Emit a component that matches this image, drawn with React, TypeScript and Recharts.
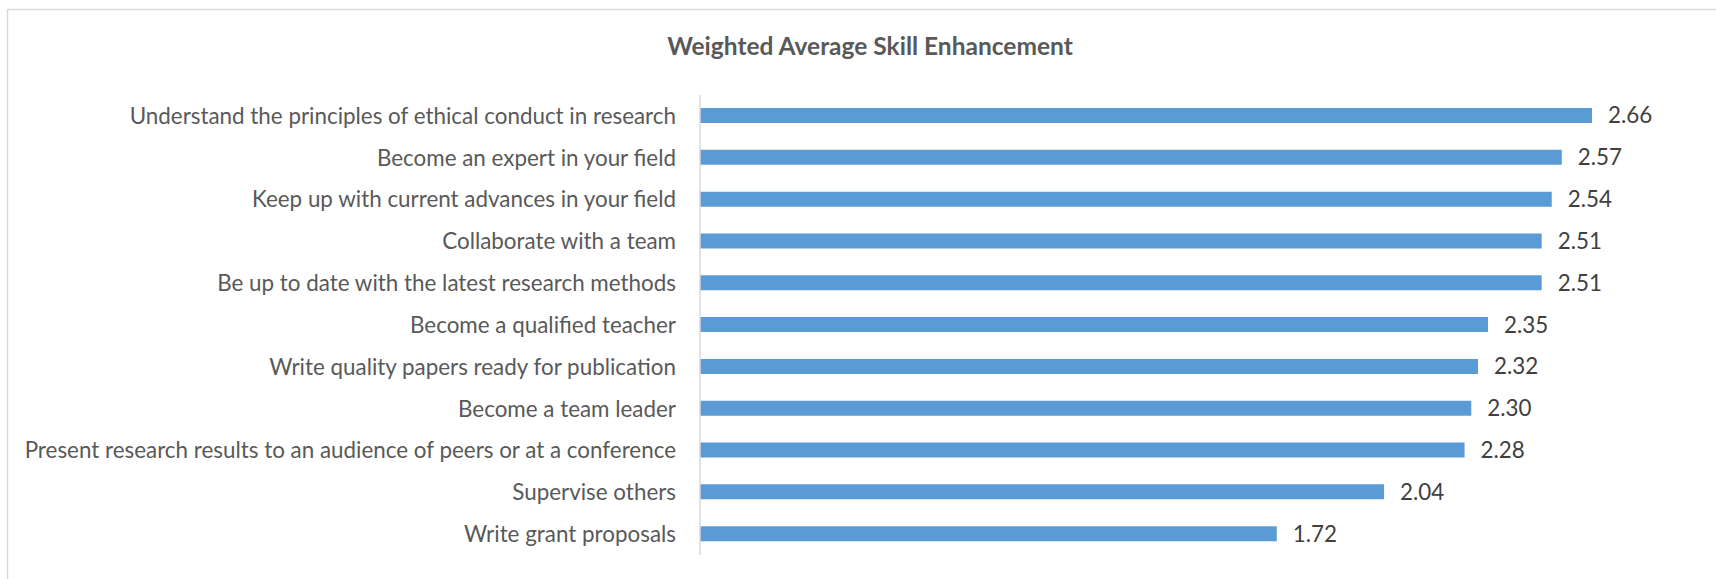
import { BarChart, Bar, XAxis, YAxis, LabelList } from 'recharts';

// skills, top to bottom as drawn
const skills = [
  'Understand the principles of ethical conduct in research',
  'Become an expert in your field',
  'Keep up with current advances in your field',
  'Collaborate with a team',
  'Be up to date with the latest research methods',
  'Become a qualified teacher',
  'Write quality papers ready for publication',
  'Become a team leader',
  'Present research results to an audience of peers or at a conference',
  'Supervise others',
  'Write grant proposals',
];

const scores = [2.66, 2.57, 2.54, 2.51, 2.51, 2.35, 2.32, 2.3, 2.28, 2.04, 1.72];

const chartTitle = 'Weighted Average Skill Enhancement';

const data = skills.map((skill, i) => ({ skill, score: scores[i] }));

const FONT = 'Lato, "Open Sans", sans-serif';

export default function App() {
  return (
    <div style={{ position: 'absolute', left: 0, top: 0, width: 1716, height: 579, background: '#fff', fontFamily: FONT }}>
      {/* chart frame (only left and top edges are in view) */}
      <svg width={1716} height={579} style={{ position: 'absolute', left: 0, top: 0 }}>
        <line x1={7} y1={9.5} x2={1716} y2={9.5} stroke="#d9d9d9" strokeWidth={1.5} />
        <line x1={7.5} y1={9} x2={7.5} y2={579} stroke="#d9d9d9" strokeWidth={1.5} />
        <text x={870} y={55} textAnchor="middle" fontFamily={FONT} fontWeight="bold" fontSize={24.5} fill="#595959">
          {chartTitle}
        </text>
      </svg>
      <div style={{ position: 'absolute', left: 0, top: 0 }}>
        <BarChart
          width={1716}
          height={579}
          data={data}
          layout="vertical"
          margin={{ top: 95, right: 10, bottom: 24, left: 0 }}
        >
          <XAxis type="number" domain={[0, 3]} hide />
          <YAxis
            type="category"
            dataKey="skill"
            width={700}
            axisLine={{ stroke: '#d9d9d9', strokeWidth: 1.5 }}
            tickLine={false}
            tickSize={0}
            tickMargin={24}
            interval={0}
            tick={{ fill: '#595959', fontSize: 22.4, fontFamily: FONT }}
          />
          <Bar dataKey="score" fill="#5b9bd5" barSize={15} isAnimationActive={false}>
            <LabelList
              dataKey="score"
              position="right"
              offset={16}
              formatter={(v: any) => Number(v).toFixed(2)}
              style={{ fill: '#404040', fontSize: 22.4, fontFamily: FONT }}
            />
          </Bar>
        </BarChart>
      </div>
    </div>
  );
}
